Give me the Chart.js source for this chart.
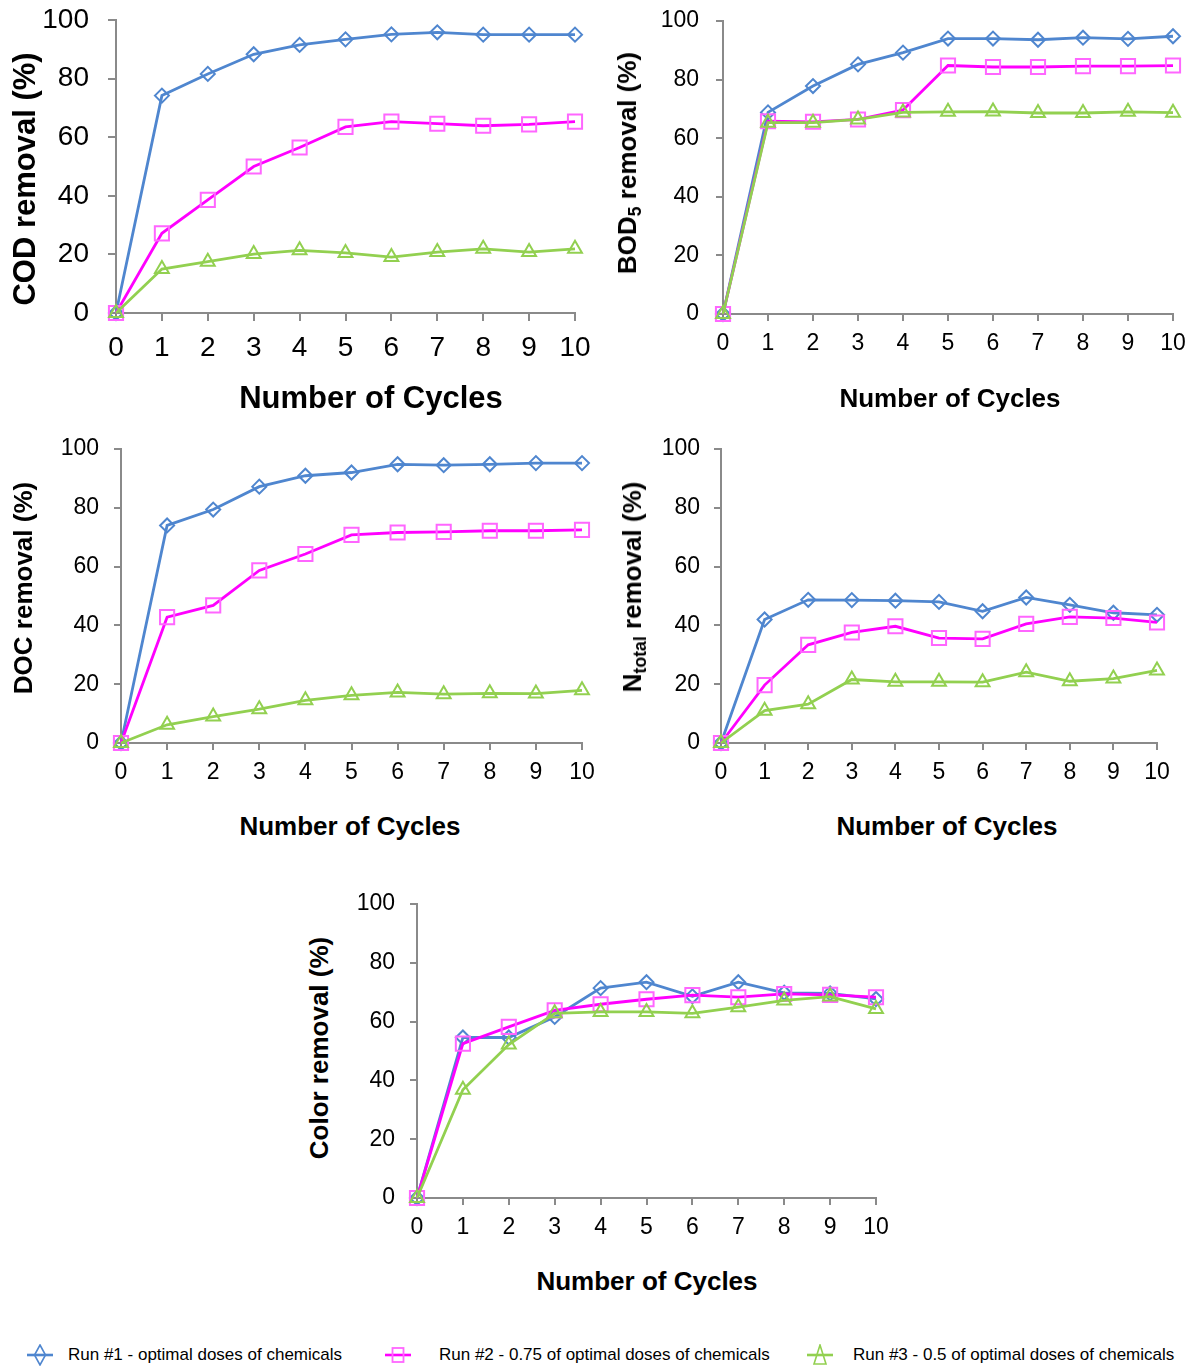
<!DOCTYPE html>
<html>
<head>
<meta charset="utf-8">
<script src="https://cdn.jsdelivr.net/npm/chart.js@4.4.1/dist/chart.umd.min.js"></script>
<style>
  body { margin: 0; background: #fff; width: 1191px; height: 1368px; position: relative; overflow: hidden;
         font-family: 'Liberation Sans', Arial, sans-serif; color: #000; }
  canvas { position: absolute; }
  .ttl { position: absolute; font-weight: bold; white-space: nowrap; line-height: 1; transform: translate(-50%, -50%); }
  .rot { transform: translate(-50%, -50%) rotate(-90deg); }
  .ttl sub { font-size: 0.68em; vertical-align: -0.28em; line-height: 0; }
  .leg { position: absolute; font-size: 17px; white-space: nowrap; line-height: 1; }
  .leg svg { position: absolute; }
</style>
</head>
<body>
<script>
// x categories and y tick labels
const cycles = ['0', '1', '2', '3', '4', '5', '6', '7', '8', '9', '10'];
const yTickLabels = [0, 20, 40, 60, 80, 100];
const runNames = ['Run #1 - optimal doses of chemicals', 'Run #2 - 0.75 of optimal doses of chemicals', 'Run #3 - 0.5 of optimal doses of chemicals'];

// COD removal (%)
const codRun1 = [0, 74.2, 81.6, 88.3, 91.5, 93.4, 95.1, 95.8, 95.0, 95.0, 95.0];
const codRun2 = [0, 27.2, 38.6, 50.0, 56.5, 63.5, 65.3, 64.6, 63.9, 64.4, 65.3];
const codRun3 = [0, 15.0, 17.5, 20.1, 21.4, 20.5, 19.1, 20.8, 21.9, 20.8, 21.9];

// BOD5 removal (%)
const bodRun1 = [0, 68.8, 77.8, 85.2, 89.2, 94.0, 94.0, 93.6, 94.3, 93.9, 94.8];
const bodRun2 = [0, 65.8, 65.6, 66.4, 69.6, 84.8, 84.3, 84.3, 84.6, 84.6, 84.8];
const bodRun3 = [0, 65.3, 65.3, 66.4, 68.8, 69.0, 69.1, 68.6, 68.6, 69.0, 68.7];

// DOC removal (%)
const docRun1 = [0, 74.0, 79.4, 87.2, 90.9, 92.0, 94.8, 94.5, 94.8, 95.2, 95.2];
const docRun2 = [0, 42.8, 46.8, 58.7, 64.3, 70.8, 71.6, 71.8, 72.2, 72.2, 72.5];
const docRun3 = [0, 6.2, 9.0, 11.5, 14.5, 16.2, 17.2, 16.6, 16.9, 16.8, 17.9];

// Ntotal removal (%)
const ntRun1 = [0, 42.0, 48.7, 48.6, 48.4, 48.0, 44.8, 49.5, 47.0, 44.3, 43.6];
const ntRun2 = [0, 19.7, 33.4, 37.6, 39.7, 35.7, 35.4, 40.5, 42.9, 42.5, 41.0];
const ntRun3 = [0, 11.0, 13.2, 21.6, 20.8, 20.8, 20.7, 24.1, 21.0, 21.9, 24.7];

// Color removal (%)
const colRun1 = [0, 54.6, 54.6, 61.6, 71.4, 73.4, 68.6, 73.4, 69.8, 69.6, 67.7];
const colRun2 = [0, 52.5, 58.2, 63.8, 65.9, 67.6, 69.0, 68.3, 69.4, 69.1, 68.3];
const colRun3 = [0, 36.8, 52.2, 62.8, 63.3, 63.3, 62.8, 64.9, 67.2, 68.5, 64.3];

const lineCols = ['#4F86CF', '#FF00FF', '#92D050'];
const markCols = ['#4F86CF', '#FF66FF', '#92D050'];
const markStyles = ['rectRot', 'rect', 'triangle'];
const markRadius = [7, 10, 8];
const axisGray = '#8A8A8A';

// padTop must cover half a tick label plus the tick padding (Chart.js adds both)
const yW = 80, padTop = 44, padRight = 36, xH = 60;

const panels = [
  { L: 116, R: 575, T: 20, B: 313, fs: 28, tl: 8, yPad: 19, xPad: 10, series: [codRun1, codRun2, codRun3] },
  { L: 723, R: 1173, T: 21, B: 314, fs: 23, tl: 7, yPad: 17, xPad: 9, series: [bodRun1, bodRun2, bodRun3] },
  { L: 121, R: 582, T: 449, B: 743, fs: 23, tl: 7, yPad: 15, xPad: 9, series: [docRun1, docRun2, docRun3] },
  { L: 721, R: 1157, T: 449, B: 743, fs: 23, tl: 7, yPad: 14, xPad: 9, series: [ntRun1, ntRun2, ntRun3] },
  { L: 417, R: 876, T: 904, B: 1198, fs: 23, tl: 7, yPad: 15, xPad: 9, series: [colRun1, colRun2, colRun3] }
];

function makePanel(p) {
  const cv = document.createElement('canvas');
  const w = (p.R - p.L) + yW + padRight;
  const h = (p.B - p.T) + padTop + xH;
  cv.width = w; cv.height = h;
  cv.style.left = (p.L - yW) + 'px';
  cv.style.top = (p.T - padTop) + 'px';
  cv.style.width = w + 'px';
  cv.style.height = h + 'px';
  document.body.appendChild(cv);

  const font = { family: "'Liberation Sans', Arial, sans-serif", size: p.fs };
  const grid = { drawOnChartArea: false, drawTicks: true, tickLength: p.tl, color: axisGray, lineWidth: 2 };
  const border = { display: true, color: axisGray, width: 2 };

  new Chart(cv, {
    type: 'line',
    data: {
      labels: cycles,
      datasets: p.series.map((vals, i) => ({
        label: runNames[i],
        data: vals,
        borderColor: lineCols[i],
        borderWidth: 2.8,
        tension: 0,
        pointStyle: markStyles[i],
        pointRadius: markRadius[i],
        pointBorderColor: markCols[i],
        pointBackgroundColor: 'rgba(0,0,0,0)',
        pointBorderWidth: 2,
        order: 3 - i,
        clip: false
      }))
    },
    options: {
      responsive: false,
      animation: false,
      devicePixelRatio: 1,
      layout: { padding: { top: padTop, right: padRight, left: 0, bottom: 0 } },
      plugins: { legend: { display: false }, tooltip: { enabled: false } },
      scales: {
        x: {
          offset: false,
          grid: Object.assign({ offset: false }, grid),
          border: border,
          ticks: { color: '#000', font: font, padding: p.xPad, maxRotation: 0, autoSkip: false },
          afterFit: s => { s.height = xH; }
        },
        y: {
          min: 0, max: 100,
          grid: grid,
          border: border,
          ticks: { stepSize: 10, color: '#000', font: font, padding: p.yPad,
                   callback: v => yTickLabels.includes(v) ? String(v) : '' },
          afterFit: s => { s.width = yW; }
        }
      }
    }
  });
}

panels.forEach(makePanel);

// axis titles
const titles = [
  { html: 'COD removal (%)', x: 24, y: 179, fs: 31, rot: true },
  { html: 'Number of Cycles', x: 371, y: 397, fs: 31 },
  { html: 'BOD<sub>5</sub> removal (%)', x: 627, y: 163, fs: 26, rot: true },
  { html: 'Number of Cycles', x: 950, y: 398, fs: 26 },
  { html: 'DOC removal (%)', x: 23, y: 588, fs: 26, rot: true },
  { html: 'Number of Cycles', x: 350, y: 826, fs: 26 },
  { html: 'N<sub>total</sub> removal (%)', x: 632, y: 587, fs: 26, rot: true },
  { html: 'Number of Cycles', x: 947, y: 826, fs: 26 },
  { html: 'Color removal (%)', x: 319, y: 1048, fs: 26, rot: true },
  { html: 'Number of Cycles', x: 647, y: 1281, fs: 26 }
];
titles.forEach(t => {
  const d = document.createElement('div');
  d.className = 'ttl' + (t.rot ? ' rot' : '');
  d.style.left = t.x + 'px';
  d.style.top = t.y + 'px';
  d.style.fontSize = t.fs + 'px';
  d.innerHTML = t.html;
  document.body.appendChild(d);
});

// shared legend at the bottom
const legendPos = [{ sx: 40, tx: 68 }, { sx: 398, tx: 439 }, { sx: 820, tx: 853 }];
const legY = 1355;
function legendShape(i) {
  const c = markCols[i];
  if (i === 0) return `<polygon points="15,1 20.5,11 15,21 9.5,11" fill="none" stroke="${c}" stroke-width="1.6"/>`;
  if (i === 1) return `<rect x="9.5" y="4" width="11" height="14" fill="none" stroke="${c}" stroke-width="1.8"/>`;
  return `<polygon points="15,1 21,20 9,20" fill="none" stroke="${c}" stroke-width="1.6"/>`;
}
runNames.forEach((name, i) => {
  const lp = legendPos[i];
  const s = document.createElement('div');
  s.className = 'leg';
  s.style.left = (lp.sx - 15) + 'px';
  s.style.top = (legY - 11) + 'px';
  s.innerHTML = `<svg width="30" height="22" viewBox="0 0 30 22" style="left:0;top:0">
      <line x1="2" y1="11" x2="28" y2="11" stroke="${lineCols[i]}" stroke-width="2.6"/>${legendShape(i)}</svg>`;
  document.body.appendChild(s);
  const t = document.createElement('div');
  t.className = 'leg';
  t.style.left = lp.tx + 'px';
  t.style.top = (legY - 9) + 'px';
  t.textContent = name;
  document.body.appendChild(t);
});
</script>
</body>
</html>
